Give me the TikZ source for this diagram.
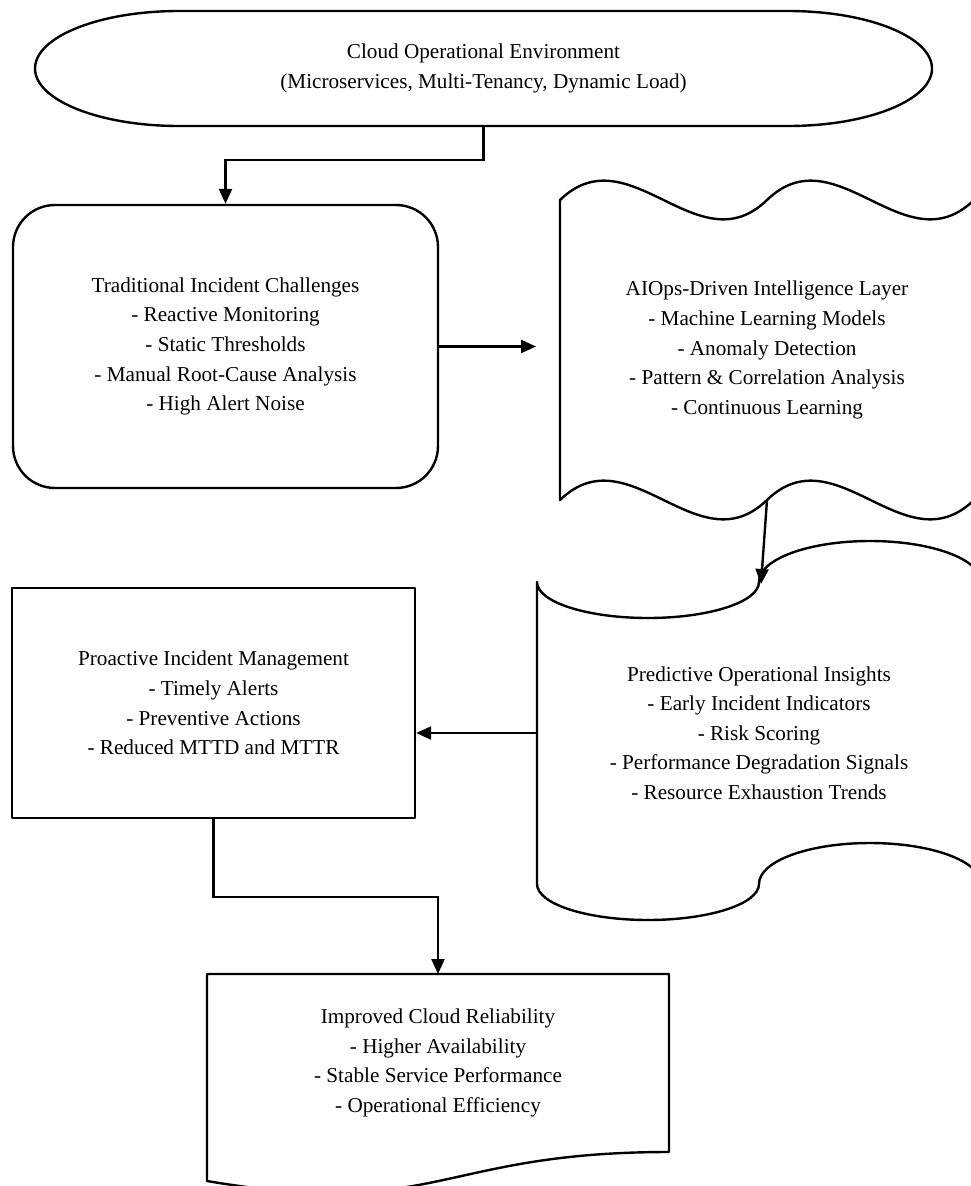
\documentclass[tikz,border=0pt]{standalone}
\usepackage{fontspec}
\setmainfont{Liberation Serif}
\usetikzlibrary{arrows.meta}
\tikzset{
  outline/.style={draw=black, line width=2.4pt, line join=round},
  txt/.style={align=center, inner sep=0pt, font=\fontsize{21.2}{29.6}\selectfont},
  holder/.style={txt, draw=none},
  arr/.style={draw=black, line width=2.4pt, -{Triangle[length=15pt,width=13pt]}},
}
\begin{document}
\begin{tikzpicture}[x=1pt,y=-1pt]
\useasboundingbox (0,0) rectangle (971,1186);
\clip (0,0) rectangle (971,1186);
\fill[white] (0,0) rectangle (971,1186);

% Cloud environment (terminator)
\draw[outline] (179,11) arc[start angle=90,end angle=270,x radius=144pt,y radius=57.5pt]
  -- (788,126) arc[start angle=-90,end angle=90,x radius=144pt,y radius=57.5pt] -- cycle;
\node[holder, minimum width=897pt, minimum height=115pt] (env) at (483.5,68.5)
  {Cloud Operational Environment\\(Microservices, Multi-Tenancy, Dynamic Load)};

% Traditional challenges
\node[txt, outline, rounded corners=42pt, minimum width=425pt, minimum height=283pt] (trad) at (225.5,346.5)
  {Traditional Incident Challenges\\- Reactive Monitoring\\- Static Thresholds\\- Manual Root-Cause Analysis\\- High Alert Noise};

% AIOps layer (double wave)
\draw[outline] (560,200) .. controls (629,133) and (698,267) .. (767,200)
  .. controls (836,133) and (905,267) .. (974,200) -- (974,500)
  .. controls (905,567) and (836,433) .. (767,500)
  .. controls (698,567) and (629,433) .. (560,500) -- cycle;
\node[holder, minimum width=414pt, minimum height=300pt] (aiops) at (767,350)
  {AIOps-Driven Intelligence Layer\\- Machine Learning Models\\- Anomaly Detection\\- Pattern \& Correlation Analysis\\- Continuous Learning};

% Predictive insights (scroll)
\draw[outline] (537,582) .. controls (537,602) and (587,618) .. (648,618)
  .. controls (709,618) and (759,602) .. (759,582)
  .. controls (759,559) and (809,541) .. (870,541)
  .. controls (931,541) and (981,559) .. (981,582) -- (981,884)
  .. controls (981,861) and (931,843) .. (870,843)
  .. controls (809,843) and (759,861) .. (759,884)
  .. controls (759,904) and (709,920) .. (648,920)
  .. controls (587,920) and (537,904) .. (537,884) -- cycle;
\node[holder, minimum width=444pt, minimum height=302pt] (pred) at (759,733)
  {Predictive Operational Insights\\- Early Incident Indicators\\- Risk Scoring\\- Performance Degradation Signals\\- Resource Exhaustion Trends};

% Proactive management
\node[txt, outline, minimum width=403pt, minimum height=230pt] (pro) at (213.5,703)
  {Proactive Incident Management\\- Timely Alerts\\- Preventive Actions\\- Reduced MTTD and MTTR};

% Improved reliability (document)
\draw[outline] (207,974) -- (669,974) -- (669,1152)
  .. controls (438,1152) and (438,1220) .. (207,1181) -- cycle;
\node[holder, minimum width=462pt, minimum height=178pt] (imp) at (438,1063)
  {Improved Cloud Reliability\\- Higher Availability\\- Stable Service Performance\\- Operational Efficiency};
\coordinate (impN) at (438,974);

% connectors
\coordinate (aiopsS) at (767,500);
\coordinate (predN) at (761,584);
\coordinate (aiopsIn) at (536,346.5);
\draw[arr] (env.south) -- ++(0,34) -| (trad.north);
\draw[arr] (trad.east) -- (aiopsIn);
\draw[arr] (aiopsS) -- (predN);
\draw[arr] (pred.west) -- (pred.west -| pro.east);
\draw[arr] (pro.south) -- ++(0,78) -| (impN);
\end{tikzpicture}
\end{document}
